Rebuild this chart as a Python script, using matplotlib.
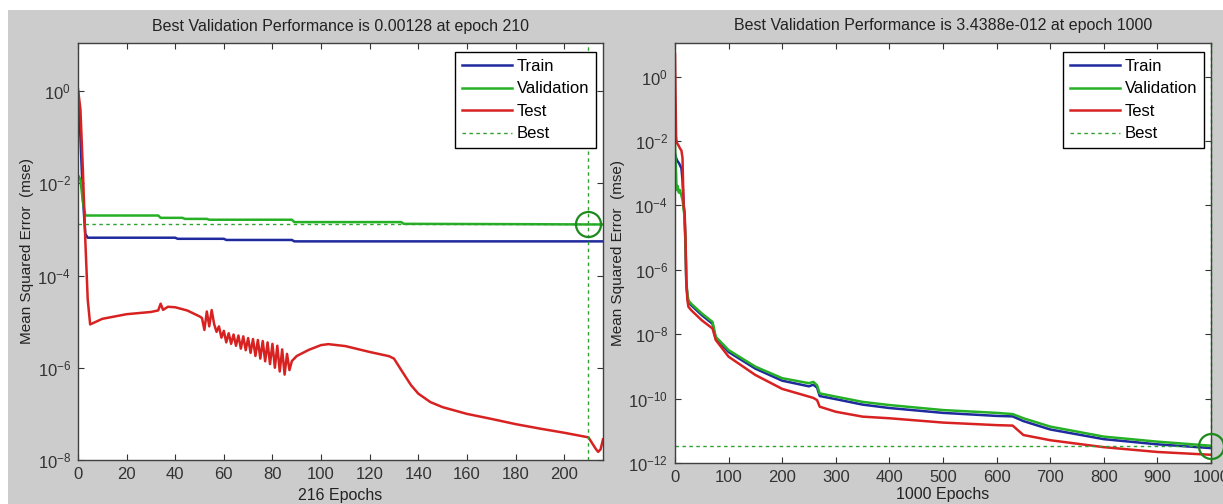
import numpy as np
import matplotlib
matplotlib.use('Agg')
import matplotlib.pyplot as plt
from matplotlib.patches import Rectangle
from matplotlib.ticker import FixedLocator, FuncFormatter, NullLocator

plt.rcParams['font.family'] = ['Liberation Sans', 'DejaVu Sans']
plt.rcParams['mathtext.fontset'] = 'custom'
plt.rcParams['mathtext.rm'] = 'Liberation Sans'
plt.rcParams['mathtext.it'] = 'Liberation Sans:italic'
plt.rcParams['mathtext.bf'] = 'Liberation Sans:bold'

# ---------------- Left panel data (216 epochs) ----------------
left_title = "Best Validation Performance is 0.00128 at epoch 210"
left_xlabel = "216 Epochs"
left_best_epoch = 210
left_best_value = 0.00128

train_left_epochs = [0, 1, 2, 3, 4, 40, 41, 60, 61, 88, 89, 216]
train_left = [0.9, 0.1, 0.005, 8e-4, 6.6e-4, 6.6e-4, 6.25e-4, 6.25e-4, 5.9e-4, 5.9e-4, 5.5e-4, 5.5e-4]

val_left_epochs = [0, 1, 2, 3, 33, 34, 43, 44, 53, 54, 88, 89, 133, 134, 180, 210, 216]
val_left = [0.015, 0.012, 0.004, 2.0e-3, 2.0e-3, 1.78e-3, 1.78e-3, 1.69e-3, 1.69e-3, 1.62e-3,
            1.62e-3, 1.44e-3, 1.44e-3, 1.32e-3, 1.30e-3, 1.28e-3, 1.28e-3]

test_left_epochs = [0, 1, 2, 3, 4, 5, 10, 20, 30, 33, 34, 35, 37, 40, 45, 50,
                    51, 52, 53, 54, 55, 56, 57, 58, 59, 60, 61, 62, 63, 64, 65, 66, 67, 68, 69, 70,
                    71, 72, 73, 74, 75, 76, 77, 78, 79, 80, 81, 82, 83, 84, 85, 86, 87, 88,
                    90, 95, 100, 103, 110, 120, 128, 130, 133, 137, 140, 145, 150, 160, 170, 180,
                    190, 200, 210, 213, 214, 215, 216]
test_left = [1.1, 0.4, 0.02, 6e-4, 3e-5, 8.7e-6, 1.15e-5, 1.45e-5, 1.62e-5, 1.75e-5, 2.45e-5, 1.8e-5,
             2.1e-5, 2.05e-5, 1.74e-5, 1.3e-5,
             1.2e-5, 6.6e-6, 1.66e-5, 7.9e-6, 1.78e-5, 8.9e-6, 6.0e-6, 7.9e-6, 4.5e-6, 6.3e-6,
             3.55e-6, 5.6e-6, 3.3e-6, 5.25e-6, 3.0e-6, 5.0e-6, 2.6e-6, 4.8e-6, 2.4e-6, 4.4e-6,
             2.1e-6, 4.2e-6, 1.8e-6, 4.0e-6, 1.58e-6, 3.8e-6, 1.38e-6, 3.55e-6, 1.2e-6, 3.3e-6,
             1.0e-6, 3.0e-6, 8.3e-7, 2.5e-6, 7.1e-7, 2.0e-6, 8.9e-7, 1.4e-6,
             1.8e-6, 2.45e-6, 3.1e-6, 3.25e-6, 2.95e-6, 2.2e-6, 1.78e-6, 1.58e-6, 8.9e-7, 4.2e-7,
             2.75e-7, 1.8e-7, 1.4e-7, 1.0e-7, 7.8e-8, 6.0e-8,
             4.8e-8, 3.9e-8, 3.1e-8, 1.75e-8, 1.5e-8, 1.7e-8, 2.8e-8]

# ---------------- Right panel data (1000 epochs) ----------------
right_title = "Best Validation Performance is 3.4388e-012 at epoch 1000"
right_xlabel = "1000 Epochs"
right_best_epoch = 1000
right_best_value = 3.4388e-12

right_epochs = [0, 2, 3, 5, 7, 9, 12, 14, 16, 18, 20, 21, 23, 25, 30, 50, 70, 76, 100, 150, 200,
                250, 258, 265, 270, 300, 350, 400, 500, 600, 630, 650, 700, 800, 900, 1000]
train_right = [4e-3, 3e-3, 2.7e-3, 2.3e-3, 2.1e-3, 1.8e-3, 1.4e-3, 6e-4, 1.2e-4, 4e-5, 3e-6, 4e-7,
               1.6e-7, 1.0e-7, 8.0e-8, 3.9e-8, 2.1e-8, 7.5e-9, 2.8e-9, 8.5e-10, 3.6e-10,
               2.4e-10, 2.7e-10, 2.2e-10, 1.2e-10, 9.6e-11, 6.5e-11, 5.1e-11, 3.6e-11, 2.9e-11,
               2.8e-11, 2.0e-11, 1.1e-11, 5.5e-12, 3.8e-12, 2.9e-12]
val_right = [8e-3, 1e-3, 3e-4, 4e-4, 2.5e-4, 3e-4, 2e-4, 1.5e-4, 8e-5, 4e-5, 4e-6, 5e-7,
             1.8e-7, 1.12e-7, 8.9e-8, 4.4e-8, 2.4e-8, 8.3e-9, 3.2e-9, 9.8e-10, 4.3e-10,
             3.0e-10, 3.3e-10, 2.6e-10, 1.45e-10, 1.15e-10, 7.9e-11, 6.3e-11, 4.4e-11, 3.6e-11,
             3.3e-11, 2.45e-11, 1.35e-11, 6.6e-12, 4.6e-12, 3.4388e-12]
test_right = [5.0, 1.5e-2, 9e-3, 8e-3, 7e-3, 6e-3, 5e-3, 3e-3, 1e-4, 6e-5, 5e-6, 5e-7,
              1.2e-7, 7.1e-8, 5.6e-8, 2.7e-8, 1.5e-8, 6.6e-9, 2.0e-9, 5.4e-10, 2.0e-10,
              1.15e-10, 1.05e-10, 9.0e-11, 5.6e-11, 3.9e-11, 2.75e-11, 2.45e-11, 1.8e-11, 1.5e-11,
              1.45e-11, 7.4e-12, 5.1e-12, 3.1e-12, 2.2e-12, 1.8e-12]

left_xticks = [0, 20, 40, 60, 80, 100, 120, 140, 160, 180, 200]
left_yticks = [1e0, 1e-2, 1e-4, 1e-6, 1e-8]
right_xticks = [0, 100, 200, 300, 400, 500, 600, 700, 800, 900, 1000]
right_yticks = [1e0, 1e-2, 1e-4, 1e-6, 1e-8, 1e-10, 1e-12]

legend_labels = ["Train", "Validation", "Test", "Best"]
ylabel_text = "Mean Squared Error  (mse)"

C_TRAIN = '#1f2a9e'
C_VAL = '#25b025'
C_TEST = '#d82222'
C_BEST = '#30a030'
C_CIRC = '#1c8a1c'

W, H = 1223, 504
fig = plt.figure(figsize=(W / 100, H / 100), dpi=100, facecolor='white')
fig.patches.append(Rectangle((8 / W, 0), 1, 1 - 10 / H, transform=fig.transFigure,
                             facecolor='#cccccc', edgecolor='none', zorder=-10))


def px_axes(x0, x1, ytop, ybot):
    return [x0 / W, 1 - ybot / H, (x1 - x0) / W, (ybot - ytop) / H]


ax1 = fig.add_axes(px_axes(78, 603, 43, 460))
ax2 = fig.add_axes(px_axes(675, 1211, 43, 463))

fmt = FuncFormatter(lambda v, p: r'$10^{%d}$' % int(round(np.log10(v))))


def style(ax, xlim, ylim, xticks, yticks, title, xlabel, xl_y, yl_x):
    ax.set_yscale('log')
    ax.set_xlim(*xlim)
    ax.set_ylim(*ylim)
    ax.xaxis.set_major_locator(FixedLocator(xticks))
    ax.yaxis.set_major_locator(FixedLocator(yticks))
    ax.yaxis.set_minor_locator(NullLocator())
    ax.yaxis.set_major_formatter(fmt)
    ax.tick_params(direction='in', top=True, right=True, length=4, width=0.8,
                   labelsize=12, colors='#333333', pad=5)
    for s in ax.spines.values():
        s.set_color('#404040')
        s.set_linewidth(1.0)
    ax.set_title(title, fontsize=11.5, color='#222222', pad=9)
    ax.set_xlabel(xlabel, fontsize=11.5, color='#222222')
    ax.xaxis.set_label_coords(0.5, xl_y)
    ax.set_ylabel(ylabel_text, fontsize=11, color='#222222')
    ax.yaxis.set_label_coords(yl_x, 0.5)


def draw(ax, te, tr, ve, va, se, sv, best_x, best_y, ylim):
    l1, = ax.plot(te, tr, color=C_TRAIN, lw=1.8)
    l2, = ax.plot(ve, va, color=C_VAL, lw=1.8)
    l3, = ax.plot(se, sv, color=C_TEST, lw=1.8)
    l4 = ax.axhline(best_y, color=C_BEST, lw=1.0, ls=(0, (2.5, 2.5)))
    ax.plot([best_x, best_x], list(ylim), color=C_BEST, lw=1.0, ls=(0, (2.5, 2.5)),
            clip_on=False)
    ax.plot([best_x], [best_y], 'o', mfc='none', mec=C_CIRC, ms=18, mew=1.6, clip_on=False,
            zorder=5)
    return [l1, l2, l3, l4]


ylim1 = (1e-8, 1.1e1)
ylim2 = (1e-12, 1.1e1)
h1 = draw(ax1, train_left_epochs, train_left, val_left_epochs, val_left,
          test_left_epochs, test_left, left_best_epoch, left_best_value, ylim1)
h2 = draw(ax2, right_epochs, train_right, right_epochs, val_right,
          right_epochs, test_right, right_best_epoch, right_best_value, ylim2)

style(ax1, (0, 216), ylim1, left_xticks, left_yticks, left_title, left_xlabel, -0.067, -0.084)
style(ax2, (0, 1000), ylim2, right_xticks, right_yticks, right_title, right_xlabel, -0.058, -0.093)

for ax, h, bx in ((ax1, h1, 0.9867), (ax2, h2, 0.987)):
    leg = ax.legend(h, legend_labels, loc='upper right', bbox_to_anchor=(bx, 0.978),
                    borderaxespad=0, fontsize=12, handlelength=3.0, handletextpad=0.3,
                    labelspacing=0.45, borderpad=0.4, fancybox=False, framealpha=1,
                    edgecolor='black')
    leg.get_frame().set_linewidth(1.0)
    leg.set_zorder(10)

fig.savefig('out.png', dpi=100, facecolor=fig.get_facecolor())
